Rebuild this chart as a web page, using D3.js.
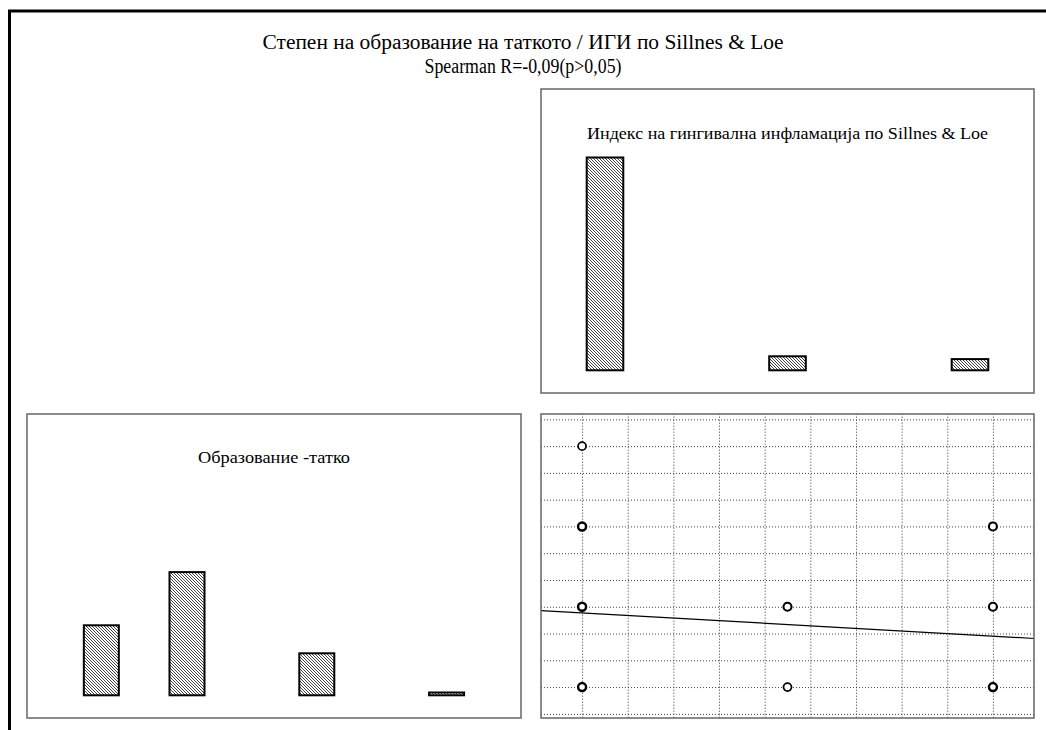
<!DOCTYPE html>
<html>
<head>
<meta charset="utf-8">
<script src="https://cdn.jsdelivr.net/npm/d3@7"></script>
<style>
  html, body { margin: 0; padding: 0; background: #fff; }
  svg { display: block; }
  text { font-family: "Liberation Serif", "Times New Roman", serif; fill: #000; }
</style>
</head>
<body>
<svg id="chart" width="1046" height="730"></svg>
<script>
// Titles
const titleLines = ["Степен на образование на таткото / ИГИ по Sillnes & Loe", "Spearman R=-0,09(p>0,05)"];
const igiTitle = "Индекс на гингивална инфламација по Sillnes & Loe";
const eduTitle = "Образование -татко";

// Histogram of the gingival inflammation index (bin centres and counts)
const igiBins = [0, 1, 2];
const igiCounts = [76, 5, 4];

// Histogram of father's education (bin centres and counts)
const eduBins = [1.34, 2, 3, 4];
const eduCounts = [25, 44, 15, 1];

// Scatter: IGI (x) against education level (y); weight = overlapping cases
const scatterX = [0, 0, 0, 0, 1, 1, 2, 2, 2];
const scatterY = [4, 3, 2, 1, 2, 1, 3, 2, 1];
const scatterWeight = [1, 3, 3, 3, 2, 1, 2, 2, 3];

// Linear fit of education on IGI
const fitIntercept = 1.924;
const fitSlope = -0.145;

const svg = d3.select("#chart");

// hatch fill for histogram bars
const defs = svg.append("defs");
const pat = defs.append("pattern")
  .attr("id", "hatch").attr("patternUnits", "userSpaceOnUse")
  .attr("width", 3).attr("height", 3);
pat.append("rect").attr("width", 3).attr("height", 3).attr("fill", "#fff");
pat.append("path").attr("d", "M-1,-1 L4,4 M-1,2 L1,4 M2,-1 L4,1")
  .attr("stroke", "#444").attr("stroke-width", 1);

// outer frame (top and left edges)
svg.append("path").attr("d", "M9.5,730 L9.5,11 L1046,11")
  .attr("fill", "none").attr("stroke", "#000").attr("stroke-width", 3);

// main title
const titleWidths = [521, 197];
svg.selectAll("text.title").data(titleLines).join("text")
  .attr("class", "title")
  .attr("x", 523).attr("y", (d, i) => 49 + i * 24)
  .attr("text-anchor", "middle").attr("font-size", 20)
  .attr("textLength", (d, i) => titleWidths[i])
  .attr("lengthAdjust", "spacingAndGlyphs")
  .text(d => d);

// panel boxes
const panels = {
  igi: { x0: 541, y0: 89, x1: 1034, y1: 393 },
  edu: { x0: 27, y0: 414, x1: 521, y1: 718 },
  sc:  { x0: 541, y0: 414, x1: 1034, y1: 718 }
};

// ---------- IGI histogram ----------
const pxPerCount = 2.8;
const igiX = d3.scaleLinear().domain([0, 2]).range([605, 970]);
const igiY = d3.scaleLinear().domain([0, 80]).range([370.3, 370.3 - 80 * pxPerCount]);
const igiBarW = 36.6;

const gIgi = svg.append("g");
gIgi.selectAll("rect.bar").data(igiBins).join("rect")
  .attr("class", "bar")
  .attr("x", d => igiX(d) - igiBarW / 2)
  .attr("y", (d, i) => igiY(igiCounts[i]))
  .attr("width", igiBarW)
  .attr("height", (d, i) => igiY(0) - igiY(igiCounts[i]))
  .attr("fill", "url(#hatch)").attr("stroke", "#000").attr("stroke-width", 2);
gIgi.append("text")
  .attr("x", 787.5).attr("y", 139)
  .attr("text-anchor", "middle").attr("font-size", 17)
  .attr("textLength", 401).attr("lengthAdjust", "spacingAndGlyphs")
  .text(igiTitle);

// ---------- Education histogram ----------
const eduX = d3.scaleLinear().domain([2, 3]).range([187, 316.8]);
const eduY = d3.scaleLinear().domain([0, 80]).range([695.3, 695.3 - 80 * pxPerCount]);
const eduBarW = 35;

const gEdu = svg.append("g");
gEdu.selectAll("rect.bar").data(eduBins).join("rect")
  .attr("class", "bar")
  .attr("x", d => eduX(d) - eduBarW / 2)
  .attr("y", (d, i) => eduY(eduCounts[i]))
  .attr("width", eduBarW)
  .attr("height", (d, i) => eduY(0) - eduY(eduCounts[i]))
  .attr("fill", "url(#hatch)").attr("stroke", "#000").attr("stroke-width", 2);
gEdu.append("text")
  .attr("x", 274).attr("y", 463)
  .attr("text-anchor", "middle").attr("font-size", 17)
  .attr("textLength", 152).attr("lengthAdjust", "spacingAndGlyphs")
  .text(eduTitle);

// ---------- Scatterplot ----------
const sc = panels.sc;
const x = d3.scaleLinear().domain([-0.2, 2.2]).range([sc.x0, sc.x1]);
const y = d3.scaleLinear().domain([0.615, 4.4]).range([sc.y1, sc.y0]);

const gridXVals = d3.range(0, 9.5, 1).map(k => k * 2 / 9);
const gridYVals = d3.range(2, 14, 1).map(k => k / 3);

const gSc = svg.append("g");
gSc.append("g")
  .attr("transform", `translate(0,${sc.y1})`)
  .call(d3.axisBottom(x).tickValues(gridXVals).tickSize(-(sc.y1 - sc.y0)).tickFormat(""))
  .call(g => g.select(".domain").remove())
  .call(g => g.selectAll(".tick line").attr("stroke", "#777").attr("stroke-dasharray", "1.5,1.5"));
gSc.append("g")
  .attr("transform", `translate(${sc.x0},0)`)
  .call(d3.axisLeft(y).tickValues(gridYVals).tickSize(-(sc.x1 - sc.x0)).tickFormat(""))
  .call(g => g.select(".domain").remove())
  .call(g => g.selectAll(".tick line").attr("stroke", "#444").attr("stroke-dasharray", "1,2"));

// fitted line
gSc.append("line")
  .attr("x1", x(-0.2)).attr("y1", y(fitIntercept + fitSlope * -0.2))
  .attr("x2", x(2.2)).attr("y2", y(fitIntercept + fitSlope * 2.2))
  .attr("stroke", "#000").attr("stroke-width", 1.2);

gSc.selectAll("circle").data(scatterX).join("circle")
  .attr("cx", d => x(d))
  .attr("cy", (d, i) => y(scatterY[i]))
  .attr("r", 4)
  .attr("fill", "#fff").attr("stroke", "#000")
  .attr("stroke-width", (d, i) => 1.4 + 0.35 * scatterWeight[i]);

// panel borders drawn last
Object.values(panels).forEach(p => {
  svg.append("rect")
    .attr("x", p.x0).attr("y", p.y0)
    .attr("width", p.x1 - p.x0).attr("height", p.y1 - p.y0)
    .attr("fill", "none").attr("stroke", "#666").attr("stroke-width", 1.5);
});
</script>
</body>
</html>
